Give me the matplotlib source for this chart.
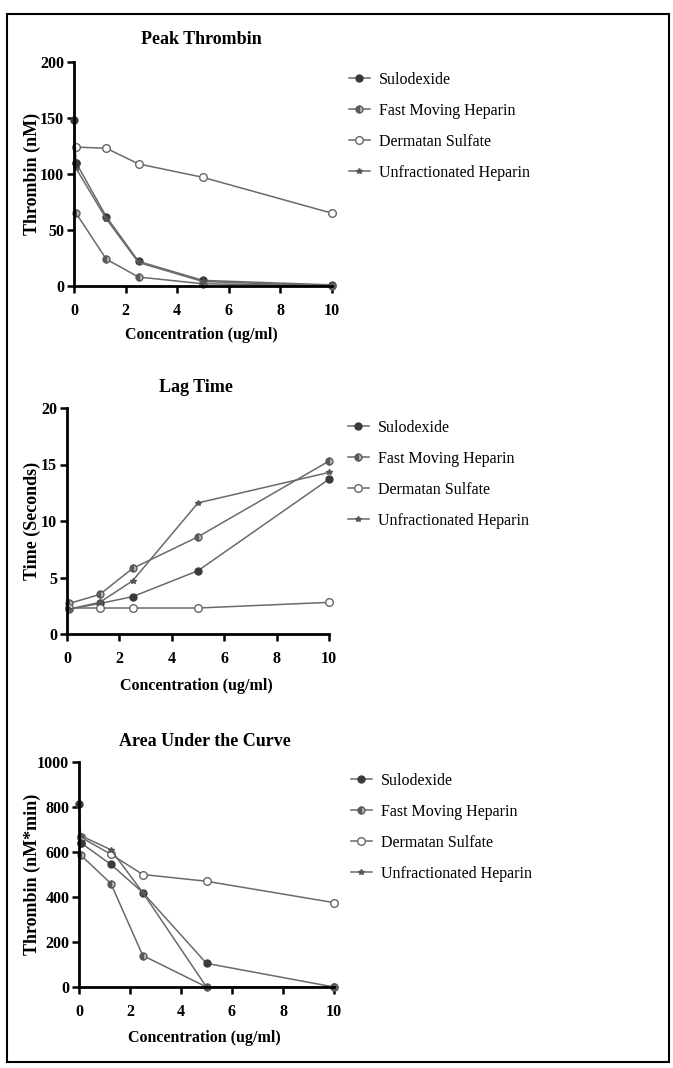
import numpy as np
import matplotlib
matplotlib.use("Agg")
from matplotlib import pyplot as plt
from matplotlib.patches import Rectangle

# concentrations (ug/ml); first point sits just off the axis
conc = [0.08, 1.25, 2.5, 5, 10]
series = ["Sulodexide", "Fast Moving Heparin", "Dermatan Sulfate", "Unfractionated Heparin"]

# Peak thrombin (nM)
peak_control = 148
peak_sulodexide = [110, 62, 22, 5, 1]
peak_fast = [65, 24, 8, 2, 0]
peak_dermatan = [124, 123, 109, 97, 65]
peak_ufh = [105, 60, 21, 4, 0]

# Lag time (seconds)
lag_sulodexide = [2.2, 2.7, 3.3, 5.6, 13.7]
lag_fast = [2.7, 3.5, 5.8, 8.6, 15.3]
lag_dermatan = [2.3, 2.3, 2.3, 2.3, 2.8]
lag_ufh = [2.2, 2.8, 4.7, 11.6, 14.3]

# Area under the curve (nM*min)
auc_control = 815
auc_sulodexide = [640, 545, 420, 105, 0]
auc_fast = [585, 460, 140, 0, 0]
auc_dermatan = [665, 590, 500, 470, 375]
auc_ufh = [672, 610, 420, 0, 0]

W, H = 673, 1068
plt.rcParams["font.family"] = ["Liberation Serif", "DejaVu Serif"]

fig = plt.figure(figsize=(W / 100, H / 100), dpi=100)
fig.patches.append(Rectangle((7 / W, 1 - 1062 / H), 662 / W, 1048 / H,
                             transform=fig.transFigure, fill=False,
                             edgecolor="black", linewidth=1.5))

LINE = "#6a6a6a"
styles = [
    dict(marker="o", markersize=5, markerfacecolor="#3a3a3a", markeredgecolor="#3a3a3a"),
    dict(marker="o", markersize=5, markerfacecolor="#5a5a5a", markeredgecolor="#5a5a5a",
         fillstyle="left", markerfacecoloralt="#bdbdbd"),
    dict(marker="o", markersize=5.5, markerfacecolor="white", markeredgecolor="#666666"),
    dict(marker="*", markersize=4, markerfacecolor="#555555", markeredgecolor="#555555"),
]


def px_axes(left, right, top, bottom):
    return fig.add_axes([left / W, 1 - bottom / H, (right - left) / W, (bottom - top) / H])


def panel(ax, data, control, ylim, yticks, title, ylabel, leg_xy, title_y, xlabel_y):
    for vals, name, st in zip(data, series, styles):
        ax.plot(conc, vals, color=LINE, linewidth=1.1, label=name, clip_on=False, **st)
    if control is not None:
        ax.plot([0, conc[0]], [control, data[0][0]], color=LINE, linewidth=1.1,
                clip_on=False, **styles[0])
    ax.set_xlim(0, 10)
    ax.set_ylim(*ylim)
    ax.set_xticks([0, 2, 4, 6, 8, 10])
    ax.set_yticks(yticks)
    for s in ["top", "right"]:
        ax.spines[s].set_visible(False)
    for s in ["left", "bottom"]:
        ax.spines[s].set_linewidth(2)
    ax.tick_params(width=1.8, length=5, labelsize=11.5)
    ax.tick_params(axis="x", pad=7)
    ax.tick_params(axis="y", pad=2)
    for t in ax.get_xticklabels() + ax.get_yticklabels():
        t.set_fontweight("bold")
    pos = ax.get_position()
    fig.text(32 / W, pos.y0 + pos.height / 2, ylabel, rotation=90, ha="center", va="center",
             fontsize=13, fontweight="bold")
    fig.text(pos.x0 + pos.width / 2 - 0.003, 1 - title_y / H, title, ha="center", va="center",
             fontsize=13, fontweight="bold")
    fig.text(pos.x0 + pos.width / 2 - 0.003, 1 - xlabel_y / H, "Concentration (ug/ml)",
             ha="center", va="center", fontsize=11.5, fontweight="bold")
    ax.legend(loc="upper left", bbox_to_anchor=(leg_xy[0] / W, 1 - leg_xy[1] / H),
              bbox_transform=fig.transFigure, frameon=False, fontsize=11.5,
              handlelength=1.3, handletextpad=0.6, labelspacing=0.93, borderpad=0)


ax1 = px_axes(74, 332, 62, 286)
panel(ax1, [peak_sulodexide, peak_fast, peak_dermatan, peak_ufh], peak_control,
      (0, 200), [0, 50, 100, 150, 200], "Peak Thrombin", "Thrombin (nM)",
      (341, 64), 40, 335)

ax2 = px_axes(67, 329, 408, 634)
panel(ax2, [lag_sulodexide, lag_fast, lag_dermatan, lag_ufh], None,
      (0, 20), [0, 5, 10, 15, 20], "Lag Time", "Time (Seconds)",
      (340, 412), 387, 686)

ax3 = px_axes(79, 334, 762, 987)
panel(ax3, [auc_sulodexide, auc_fast, auc_dermatan, auc_ufh], auc_control,
      (0, 1000), [0, 200, 400, 600, 800, 1000], "Area Under the Curve", "Thrombin (nM*min)",
      (343, 765), 742, 1038)

fig.savefig("out.png", dpi=100)
